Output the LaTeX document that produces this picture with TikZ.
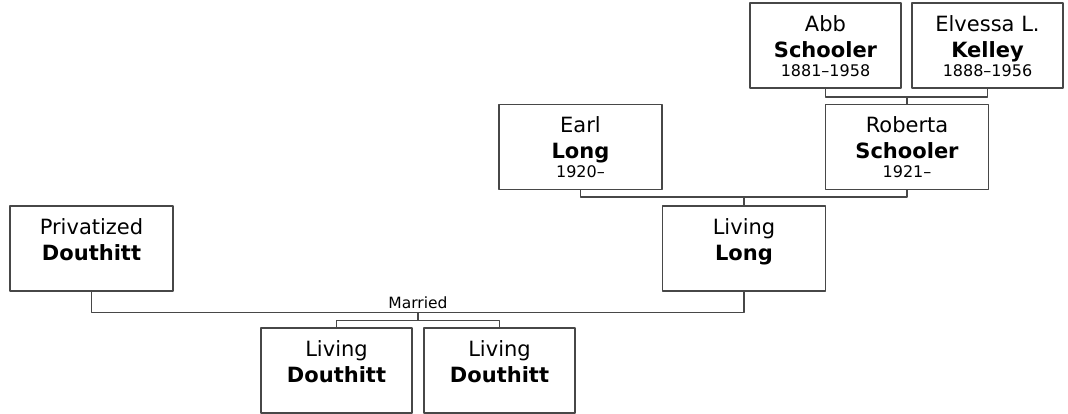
\documentclass[tikz,border=0pt]{standalone}
\usepackage{fontspec}
\setmainfont{DejaVu Sans}
\begin{document}
\begin{tikzpicture}[x=1pt, y=-1pt, line join=round,
	box/.style={draw=black!72, line width=1.5pt, minimum height=85pt, inner sep=0pt},
	wide/.style={box, minimum width=163pt},
	slim/.style={box, minimum width=151pt},
	given/.style={anchor=base, inner sep=0pt, font=\fontsize{21}{25}\selectfont},
	surname/.style={anchor=base, inner sep=0pt, font=\fontsize{21}{25}\selectfont\bfseries},
	years/.style={anchor=base, inner sep=0pt, font=\fontsize{16}{19}\selectfont},
	link/.style={draw=black!72, line width=1.5pt}]
	\useasboundingbox (0,0) rectangle (1068,413);
	% boxes
	\node[slim] (abb) at (825.5, 45.5) {};
	\node[slim] (elvessa) at (987.5, 45.5) {};
	\node[wide] (earl) at (580.5, 147) {};
	\node[wide] (roberta) at (907, 147) {};
	\node[wide] (privat) at (91.5, 248.5) {};
	\node[wide] (livlong) at (744, 248.5) {};
	\node[slim] (kidone) at (336.5, 370.5) {};
	\node[slim] (kidtwo) at (499.5, 370.5) {};
	% names
	\node[given] (abbA) at ([yshift=-29pt]abb.north) {Abb};
	\node[surname] (abbB) at ([yshift=-55pt]abb.north) {Schooler};
	\node[years] (abbC) at ([yshift=-74pt]abb.north) {1881–1958};
	\node[given] (elvA) at ([yshift=-29pt]elvessa.north) {Elvessa L.};
	\node[surname] (elvB) at ([yshift=-55pt]elvessa.north) {Kelley};
	\node[years] (elvC) at ([yshift=-74pt]elvessa.north) {1888–1956};
	\node[given] (earlA) at ([yshift=-29pt]earl.north) {Earl};
	\node[surname] (earlB) at ([yshift=-55pt]earl.north) {Long};
	\node[years] (earlC) at ([yshift=-74pt]earl.north) {1920–};
	\node[given] (robA) at ([yshift=-29pt]roberta.north) {Roberta};
	\node[surname] (robB) at ([yshift=-55pt]roberta.north) {Schooler};
	\node[years] (robC) at ([yshift=-74pt]roberta.north) {1921–};
	\node[given] (privA) at ([yshift=-29pt]privat.north) {Privatized};
	\node[surname] (privB) at ([yshift=-55pt]privat.north) {Douthitt};
	\node[given] (llA) at ([yshift=-29pt]livlong.north) {Living};
	\node[surname] (llB) at ([yshift=-55pt]livlong.north) {Long};
	\node[given] (k1A) at ([yshift=-29pt]kidone.north) {Living};
	\node[surname] (k1B) at ([yshift=-55pt]kidone.north) {Douthitt};
	\node[given] (k2A) at ([yshift=-29pt]kidtwo.north) {Living};
	\node[surname] (k2B) at ([yshift=-55pt]kidtwo.north) {Douthitt};
	% connectors
	\coordinate (abbelv) at (907, 97);
	\draw[link] (abb.south) |- (abbelv) -| (elvessa.south);
	\draw[link] (abbelv) -- (roberta.north);
	\coordinate (earlrob) at (744, 197);
	\draw[link] (earl.south) |- (earlrob) -| (roberta.south);
	\draw[link] (earlrob) -- (livlong.north);
	\coordinate (couple) at (418, 312.5);
	\draw[link] (privat.south) |- (couple) -| (livlong.south);
	\node[anchor=base, inner sep=0pt, font=\fontsize{15.5}{18}\selectfont] (married) at (418, 308) {Married};
	\coordinate (kids) at (418, 320.5);
	\draw[link] (couple) -- (kids);
	\draw[link] (kidone.north) |- (kids) -| (kidtwo.north);
\end{tikzpicture}
\end{document}
